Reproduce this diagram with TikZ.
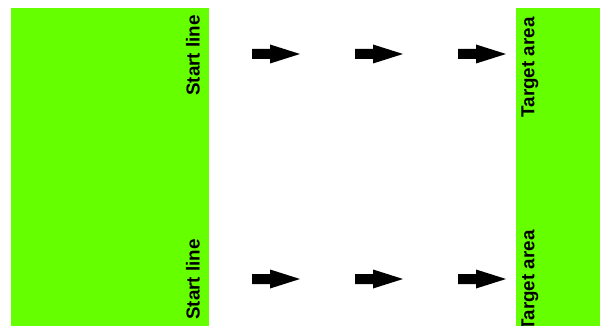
\documentclass[tikz,border=0pt]{standalone}
\usepackage{fontspec}
\setmainfont{Liberation Sans}
\begin{document}
\begin{tikzpicture}[x=1pt,y=-1pt,
  zone/.style={fill=zonegreen,draw=none},
  lbl/.style={font=\fontsize{18.8}{19}\selectfont\bfseries,rotate=90,inner sep=0pt,text=black},
  blockarrow/.pic={\fill[black] (0,-5) -- (18,-5) -- (18,-9.5) -- (48,0) -- (18,9.5) -- (18,5) -- (0,5) -- cycle;}]
\definecolor{zonegreen}{HTML}{66FF00}
\useasboundingbox (0,0) rectangle (600,326);
% start and target zones
\fill[zone] (11,8) rectangle (209,326);
\fill[zone] (516,8) rectangle (600,326);
% labels
\node[lbl] (s1) at (193,55.5) {Start line};
\node[lbl] (s2) at (193,279.5) {Start line};
\node[lbl] (t1) at (530,67.5) {Target area};
\node[lbl] (t2) at (530,280.5) {Target area};
% arrow rows
\foreach \y in {54,279}{
  \foreach \x in {252,355,458}{
    \pic at (\x,\y) {blockarrow};
  }
}
\end{tikzpicture}
\end{document}
